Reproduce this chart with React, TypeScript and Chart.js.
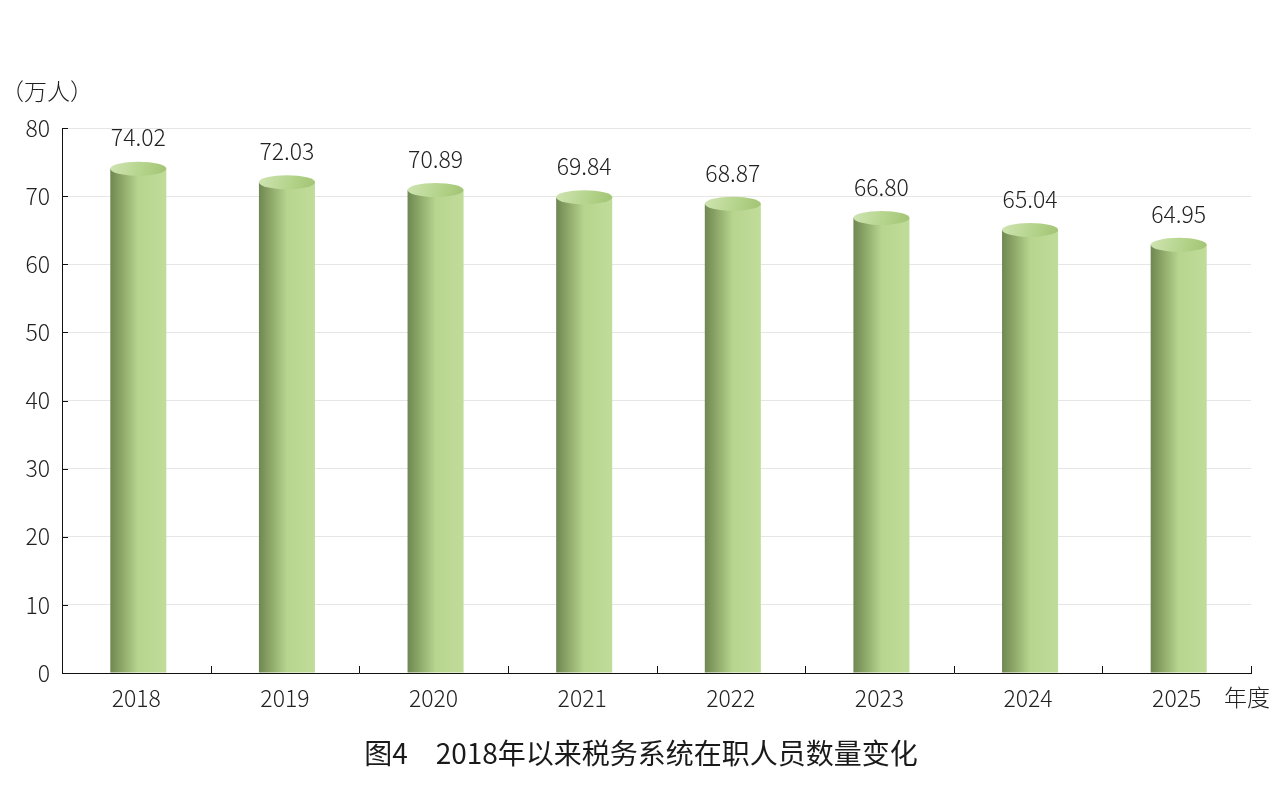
import React, { useEffect, useRef } from "react";
import { Chart, registerables } from "chart.js";

Chart.register(...registerables);

// Data
const categories = ["2018", "2019", "2020", "2021", "2022", "2023", "2024", "2025"];
// printed value labels
const valueLabels = ["74.02", "72.03", "70.89", "69.84", "68.87", "66.80", "65.04", "64.95"];
// bar heights as drawn in the picture (the 2025 cylinder is drawn lower than its label)
const barHeights = [74.02, 72.03, 70.89, 69.84, 68.87, 66.8, 65.04, 62.85];
const yTicks = [0, 10, 20, 30, 40, 50, 60, 70, 80];

const FONT = "'Noto Sans CJK SC', 'Noto Sans', sans-serif";
const unitLabel = "（万人）";
const xUnitLabel = "年度";
const titleText = "图4　2018年以来税务系统在职人员数量变化";

const cylinderPlugin = {
  id: "cylinder",
  afterDatasetsDraw(chart: any) {
    const ctx = chart.ctx;
    const meta = chart.getDatasetMeta(0);
    meta.data.forEach((bar: any, i: number) => {
      const { x: cx, y, base, width } = bar.getProps(["x", "y", "base", "width"], true);
      const x = cx + 2;
      const left = x - width / 2;
      const right = x + width / 2;
      const ry = 7;
      ctx.save();
      // side
      const g = ctx.createLinearGradient(left, 0, right, 0);
      g.addColorStop(0, "#6f8752");
      g.addColorStop(0.2, "#8ba667");
      g.addColorStop(0.5, "#b8d58f");
      g.addColorStop(1, "#c0dc99");
      ctx.fillStyle = g;
      ctx.fillRect(left, y, width, base - y);
      // top
      const tg = ctx.createLinearGradient(left, y - ry, right, y + ry);
      tg.addColorStop(0, "#cfe4b2");
      tg.addColorStop(0.55, "#b5d48c");
      tg.addColorStop(1, "#a2c473");
      ctx.beginPath();
      ctx.ellipse(x, y, width / 2, ry, 0, 0, Math.PI * 2);
      ctx.fillStyle = tg;
      ctx.fill();
      // value label
      ctx.fillStyle = "#222";
      ctx.font = `300 23px ${FONT}`;
      ctx.textAlign = "center";
      ctx.textBaseline = "middle";
      ctx.fillText(valueLabels[i], x, y - 31);
      ctx.restore();
    });
  },
  afterDraw(chart: any) {
    const ctx = chart.ctx;
    const area = chart.chartArea;
    const xs = chart.scales.x;
    const ys = chart.scales.y;
    ctx.save();
    ctx.strokeStyle = "#111";
    ctx.lineWidth = 1;
    // inside y ticks
    yTicks.forEach((v) => {
      const py = Math.round(ys.getPixelForValue(v)) + 0.5;
      ctx.beginPath();
      ctx.moveTo(area.left, py);
      ctx.lineTo(area.left + 6, py);
      ctx.stroke();
    });
    // inside x ticks at category boundaries
    for (let i = 0; i < categories.length; i++) {
      let px: number;
      if (i < categories.length - 1) {
        px = (xs.getPixelForValue(i) + xs.getPixelForValue(i + 1)) / 2;
      } else {
        px = area.right;
      }
      px = Math.round(px) + 0.5;
      ctx.beginPath();
      ctx.moveTo(px, area.bottom);
      ctx.lineTo(px, area.bottom - 7);
      ctx.stroke();
    }
    // texts
    ctx.fillStyle = "#222";
    ctx.textBaseline = "middle";
    ctx.textAlign = "left";
    ctx.font = `300 23px ${FONT}`;
    ctx.fillText(unitLabel, 1, 91);
    ctx.fillText(xUnitLabel, area.right - 27, 697);
    ctx.textAlign = "center";
    ctx.fillStyle = "#1a1a1a";
    ctx.font = `400 28px ${FONT}`;
    ctx.fillText(titleText, 641, 753);
    ctx.restore();
  },
};

export default function App() {
  const ref = useRef<HTMLCanvasElement | null>(null);
  useEffect(() => {
    if (!ref.current) return;
    const chart = new Chart(ref.current, {
      type: "bar",
      data: {
        labels: categories,
        datasets: [
          {
            data: barHeights,
            backgroundColor: "rgba(0,0,0,0)",
            borderWidth: 0,
            categoryPercentage: 1,
            barPercentage: 0.377,
          },
        ],
      },
      options: {
        responsive: false,
        animation: false,
        layout: { padding: { left: 0, top: 128, right: 35, bottom: 0 } },
        plugins: { legend: { display: false }, tooltip: { enabled: false }, title: { display: false } },
        scales: {
          x: {
            grid: { display: false, drawTicks: false },
            border: { display: true, color: "#111", width: 1 },
            ticks: { color: "#222", font: { family: FONT, size: 23, weight: "300" as any }, padding: 11 },
            afterFit(s: any) {
              s.height = 115;
            },
          },
          y: {
            min: 0,
            max: 80,
            grid: { color: "#e6e6e6", drawTicks: false },
            border: { display: true, color: "#111", width: 1 },
            ticks: {
              stepSize: 10,
              color: "#222",
              font: { family: FONT, size: 23, weight: "300" as any },
              padding: 12,
            },
            afterFit(s: any) {
              s.width = 62;
            },
          },
        },
      },
      plugins: [cylinderPlugin],
    });
    return () => chart.destroy();
  }, []);
  return (
    <div style={{ position: "absolute", left: 0, top: 0, width: 1286, height: 788, background: "#fff" }}>
      <canvas ref={ref} width={1286} height={788} style={{ display: "block" }} />
    </div>
  );
}
